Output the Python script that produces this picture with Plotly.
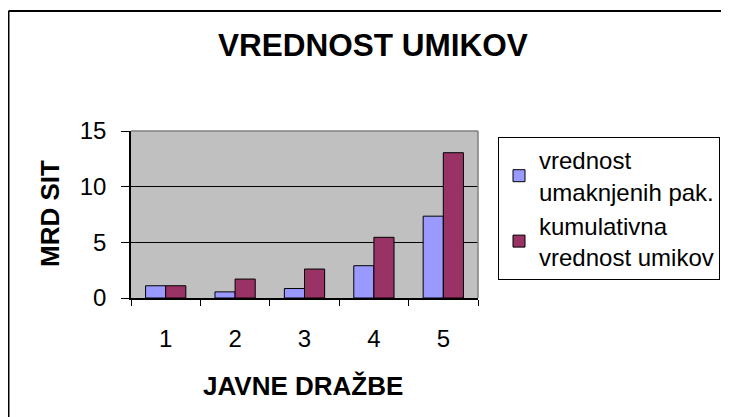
import plotly.graph_objects as go

categories = ["1", "2", "3", "4", "5"]
vrednost = [1.1, 0.55, 0.85, 2.9, 7.35]
kumulativna = [1.1, 1.7, 2.6, 5.45, 13.05]
series_names = ["vrednost<br>umaknjenih pak.", "kumulativna<br>vrednost umikov"]
y_ticks = [0, 5, 10, 15]

FONT = "Arial, Liberation Sans, sans-serif"

fig = go.Figure()
fig.add_trace(go.Bar(x=categories, y=vrednost, name=series_names[0],
                     marker=dict(color="#9999FF", line=dict(color="black", width=1))))
fig.add_trace(go.Bar(x=categories, y=kumulativna, name=series_names[1],
                     marker=dict(color="#993366", line=dict(color="black", width=1))))

# page has 8px body margin; work in page coordinates and shift
OFF = 8
W, H = 729 - OFF, 417 - OFF
L, T, R, B = 131 - OFF, 131 - OFF, 478 - OFF, 298 - OFF
pw, ph = R - L, B - T

def px(x):
    return (x - OFF - L) / pw

def py(y):
    return (B - (y - OFF)) / ph

fig.update_layout(
    width=W, height=H,
    margin=dict(l=L, r=W - R, t=T, b=H - B, pad=0, autoexpand=False),
    paper_bgcolor="white",
    plot_bgcolor="#C0C0C0",
    barmode="group",
    bargap=0.42,
    bargroupgap=0,
    font=dict(family=FONT, color="black", size=24),
    showlegend=True,
    legend=dict(
        x=px(498), y=py(137), xanchor="left", yanchor="top",
        bordercolor="black", borderwidth=1, bgcolor="white",
        font=dict(size=24, family=FONT, color="black"),
        tracegroupgap=4,
    ),
    xaxis=dict(
        type="category",
        tickson="boundaries",
        ticks="outside", ticklen=6, tickcolor="black", tickwidth=1,
        showline=True, linecolor="black", linewidth=1.5,
        showgrid=False,
        tickfont=dict(size=24),
        ticklabelstandoff=18,
    ),
    yaxis=dict(
        range=[0, 15],
        tickvals=y_ticks,
        ticks="outside", ticklen=8, tickcolor="black", tickwidth=1,
        showline=True, linecolor="black", linewidth=1.5,
        showgrid=True, gridcolor="black", gridwidth=1.2,
        zeroline=False,
        tickfont=dict(size=24),
        ticklabelstandoff=10,
    ),
    annotations=[
        dict(text="<b>VREDNOST UMIKOV</b>", xref="paper", yref="paper",
             x=px(373), y=py(45), xanchor="center", yanchor="middle",
             showarrow=False, font=dict(size=31.5, family=FONT)),
        dict(text="<b>MRD SIT</b>", xref="paper", yref="paper",
             x=px(50), y=py(214), xanchor="center", yanchor="middle",
             textangle=-90, showarrow=False, font=dict(size=26, family=FONT)),
        dict(text="<b>JAVNE DRAŽBE</b>", xref="paper", yref="paper",
             x=px(303), y=py(386), xanchor="center", yanchor="middle",
             showarrow=False, font=dict(size=26, family=FONT)),
    ],
    shapes=[
        # gray plot-area border (top and right)
        dict(type="line", xref="paper", yref="paper", x0=0, x1=1, y0=1, y1=1,
             line=dict(color="#808080", width=1.5), layer="above"),
        dict(type="line", xref="paper", yref="paper", x0=1, x1=1, y0=0, y1=1,
             line=dict(color="#808080", width=1.5), layer="above"),
        # chart frame (top and left visible)
        dict(type="line", xref="paper", yref="paper", x0=px(8.5), x1=px(760),
             y0=py(11), y1=py(11), line=dict(color="black", width=2)),
        dict(type="line", xref="paper", yref="paper", x0=px(8.5), x1=px(8.5),
             y0=py(11), y1=py(440), line=dict(color="black", width=2)),
    ],
)

fig.write_html("out.html")
